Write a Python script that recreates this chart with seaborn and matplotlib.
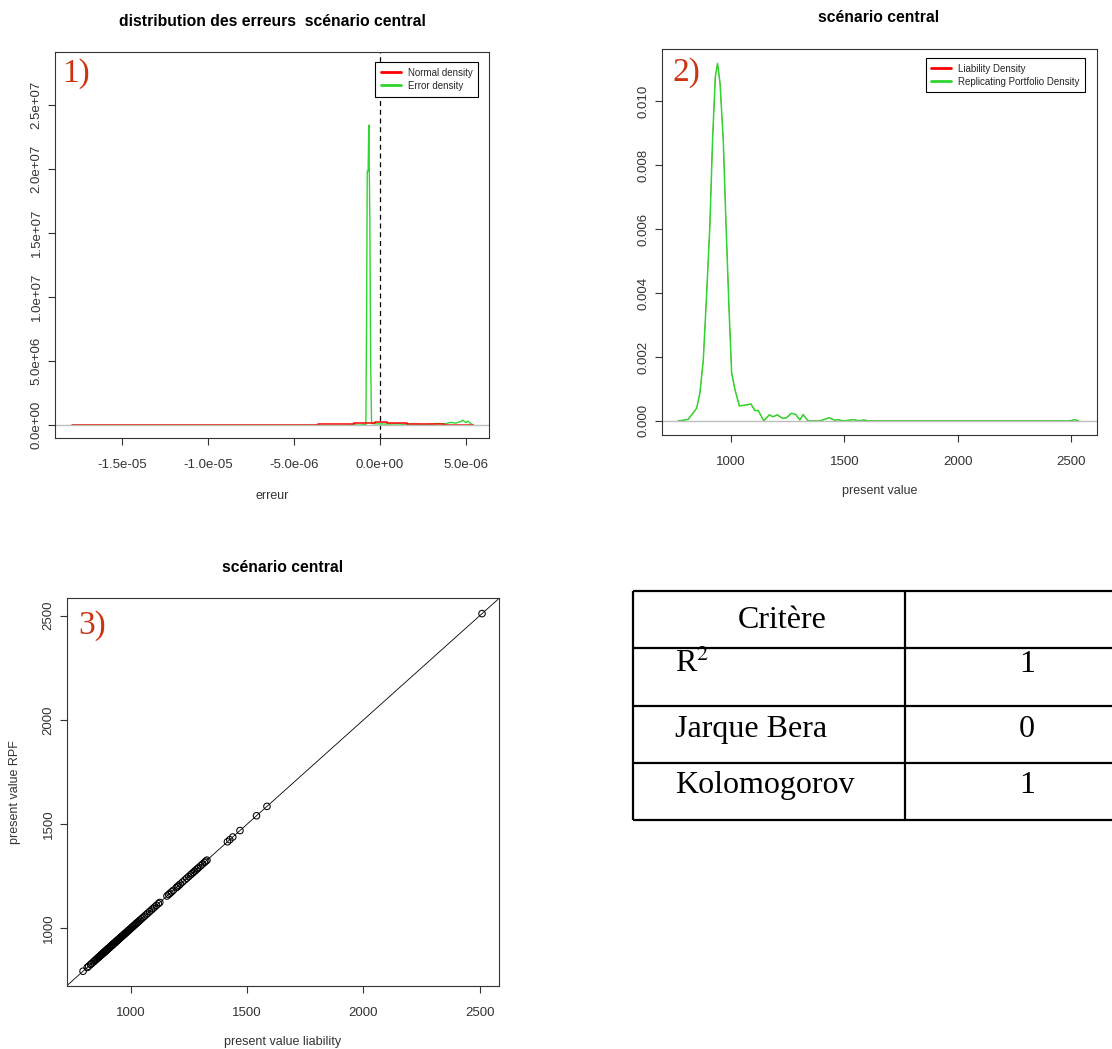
import matplotlib
matplotlib.use("Agg")
import matplotlib.pyplot as plt
import seaborn as sns

# ---------------- panel 1: error density vs fitted normal density ----------------
err_x = [-1.79e-5, -4.5e-6, -2.0e-6, -1.6e-6, -1.2e-6, -9.0e-7, -8.2e-7, -7.8e-7,
         -7.4e-7, -6.9e-7, -6.5e-7, -5.9e-7, -5.4e-7, -4.9e-7, -4.5e-7, -3.0e-7,
         0.0, 5.0e-7, 1.0e-6, 1.5e-6, 2.0e-6, 2.5e-6, 3.0e-6, 3.4e-6, 3.8e-6,
         4.1e-6, 4.4e-6, 4.7e-6, 4.8e-6, 5.0e-6, 5.1e-6, 5.3e-6, 5.45e-6]
err_y = [0.0, 0.0, 0.0, 4e4, 0.0, 5e4, 0.0, 8.4e6,
         1.98e7, 1.98e7, 2.34e7, 1.60e7, 4.7e6, 2e5, 1.2e5, 1e5,
         1e5, 8e4, 1e5, 6e4, 9e4, 3e4, 8e4, 1.3e5, 1.0e5,
         2.2e5, 1.6e5, 2.8e5, 3.9e5, 2.0e5, 3.2e5, 1.0e5, 0.0]
norm_x = [-1.79e-5, -3.6e-6, -2.4e-6, -1.5e-6, -3.0e-7, 4.0e-7, 1.6e-6, 2.5e-6, 3.7e-6, 5.4e-6]
norm_y = [0.0, 5.5e4, 1.2e5, 2.0e5, 2.7e5, 2.0e5, 1.2e5, 5.5e4, 2e4, 2e4]
err_xticks = [-1.5e-5, -1.0e-5, -5.0e-6, 0.0, 5.0e-6]
err_xticklabels = ["-1.5e-05", "-1.0e-05", "-5.0e-06", "0.0e+00", "5.0e-06"]
err_yticks = [0, 5e6, 1e7, 1.5e7, 2e7, 2.5e7]
err_yticklabels = ["0.0e+00", "5.0e+06", "1.0e+07", "1.5e+07", "2.0e+07", "2.5e+07"]

# ---------------- panel 2: density of present values ----------------
pv_grid = [768, 812, 849, 863, 878, 893, 907, 919, 931, 941, 952, 966, 978, 991,
           1003, 1018, 1037, 1069, 1088, 1106, 1120, 1145, 1169, 1186, 1204, 1228,
           1245, 1267, 1286, 1304, 1318, 1340, 1392, 1433, 1458, 1473, 1495, 1542,
           1565, 1586, 1605, 2000, 2490, 2505, 2515, 2525, 2533]
rpf_density = [0.0, 0.00005, 0.0004, 0.00087, 0.0019, 0.0040, 0.0061, 0.0088,
               0.01076, 0.01118, 0.01055, 0.0088, 0.0062, 0.0036, 0.0015, 0.00097,
               0.00047, 0.0005, 0.00053, 0.00032, 0.00033, 0.0, 0.00019, 0.00013,
               0.00019, 0.00008, 0.0001, 0.00024, 0.0002, 0.00003, 0.0002, 0.0,
               0.0, 0.0001, 0.00002, 0.00004, 0.0, 0.00004, 0.0, 0.00003, 0.0,
               0.0, 0.0, 0.00002, 0.00004, 0.00002, 0.0]
liability_density = list(rpf_density)
pv_xticks = [1000, 1500, 2000, 2500]
dens_yticks = [0.000, 0.002, 0.004, 0.006, 0.008, 0.010]
dens_yticklabels = ["0.000", "0.002", "0.004", "0.006", "0.008", "0.010"]

# ---------------- panel 3: RPF vs liability ----------------
pv_liability = [794, 812, 818, 826, 831, 838, 842, 847, 851, 855, 858, 861, 864, 867,
                870, 872, 875, 877, 880, 882, 884, 886, 888, 890, 892, 894, 896, 898,
                900, 902, 904, 906, 908, 910, 912, 914, 916, 918, 920, 922, 924, 926,
                928, 930, 932, 934, 936, 938, 940, 942, 944, 946, 948, 950, 953, 956,
                959, 962, 965, 968, 971, 974, 977, 980, 983, 986, 989, 992, 995, 998,
                1002, 1006, 1010, 1014, 1018, 1022, 1026, 1030, 1035, 1040, 1046, 1052,
                1058, 1065, 1072, 1080, 1088, 1095, 1102, 1110, 1118, 1124,
                1155, 1162, 1168, 1175, 1182, 1195, 1200, 1206, 1212, 1222, 1232, 1240,
                1248, 1256, 1262, 1268, 1274, 1280, 1286, 1292, 1300, 1308, 1316, 1322,
                1327, 1415, 1425, 1438, 1469, 1540, 1585, 2510]
pv_rpf = list(pv_liability)
pv_yticks = [1000, 1500, 2000, 2500]

# ---------------- summary table ----------------
criteria_header = "Critère"
criteria = ["R$^2$", "Jarque Bera", "Kolomogorov"]
criteria_values = ["1", "0", "1"]

# ---------------- styling ----------------
sns.set_theme(style="white")
plt.rcParams["font.family"] = ["Liberation Sans", "DejaVu Sans"]
plt.rcParams["mathtext.fontset"] = "stix"

W, H = 1112, 1049
fig = plt.figure(figsize=(W / 100, H / 100), dpi=100)
fig.patch.set_facecolor("white")

RED = "#ff0000"
GREEN = "#2fd62f"
ZERO = "#bebebe"
INK = "#333333"
TAG = "#cc3311"


def px_axes(x0, y0, x1, y1):
    return fig.add_axes([x0 / W, 1 - y1 / H, (x1 - x0) / W, (y1 - y0) / H])


def r_frame(ax):
    for s in ax.spines.values():
        s.set_visible(True)
        s.set_color(INK)
        s.set_linewidth(0.8)
    ax.tick_params(direction="out", length=5, width=0.8, color=INK,
                   labelsize=9.5, labelcolor=INK, left=True, bottom=True)
    ax.tick_params(axis="x", pad=10)
    ax.tick_params(axis="y", pad=4)
    ax.grid(False)
    ax.set_facecolor("white")


def tag(ax, txt, dx, dy, bbox_w, bbox_h):
    ax.text(dx / bbox_w, 1 - dy / bbox_h, txt, transform=ax.transAxes,
            ha="left", va="top", fontsize=24, color=TAG, family="Liberation Serif")


def axis_labels(ax, xlabel, xoff, ylabel=None, yoff=None, w=1, h=1):
    ax.set_xlabel(xlabel, fontsize=9, color=INK)
    ax.xaxis.label.set_verticalalignment("center")
    ax.xaxis.set_label_coords(0.5, -xoff / h)
    if ylabel is not None:
        ax.set_ylabel(ylabel, fontsize=9, color=INK)
        ax.yaxis.label.set_verticalalignment("center")
        ax.yaxis.set_label_coords(-yoff / w, 0.5)
    else:
        ax.set_ylabel("")


def legend_box(ax, anchor, handles=None, labels=None):
    kw = dict(loc="upper right", bbox_to_anchor=anchor, fontsize=7,
              frameon=True, fancybox=False, edgecolor="black", framealpha=1,
              borderpad=0.6, handlelength=2.0, handletextpad=0.7,
              labelspacing=0.3, borderaxespad=0)
    leg = ax.legend(handles, labels, **kw) if handles else ax.legend(**kw)
    leg.get_frame().set_linewidth(0.8)
    for ln in leg.get_lines():
        ln.set_linewidth(2)
    return leg


# ---- panel 1 ----
ax1 = px_axes(55, 52, 489, 438)
sns.lineplot(x=err_x, y=err_y, ax=ax1, color=GREEN, lw=1, estimator=None,
             sort=False, label="Error density")
ax1.axhline(0, color=ZERO, lw=1, zorder=2.5)
sns.lineplot(x=norm_x, y=norm_y, ax=ax1, color=RED, lw=1.1, estimator=None,
             sort=False, drawstyle="steps-post", label="Normal density")
ax1.axvline(0, color="black", lw=0.9, ls=(0, (4, 3)))
ax1.set_xlim(-1.89e-5, 6.34e-6)
ax1.set_ylim(-1.0e6, 2.91e7)
r_frame(ax1)
ax1.set_xticks(err_xticks, err_xticklabels)
ax1.set_yticks(err_yticks, err_yticklabels, rotation=90, va="center")
axis_labels(ax1, "erreur", 58, h=386)
h1, l1 = ax1.get_legend_handles_labels()
order = [l1.index("Normal density"), l1.index("Error density")]
legend_box(ax1, (0.975, 0.974), [h1[i] for i in order], [l1[i] for i in order])
tag(ax1, "1)", 7, 6, 434, 386)
fig.text(272 / W, 1 - 22 / H, "distribution des erreurs  scénario central",
         ha="center", va="center", fontsize=11.3, fontweight="bold", color="black")

# ---- panel 2 ----
ax2 = px_axes(662, 49, 1097, 435)
sns.lineplot(x=pv_grid, y=liability_density, ax=ax2, color=RED, lw=0.4,
             estimator=None, sort=False, label="Liability Density")
ax2.axhline(0, color=ZERO, lw=1, zorder=2.5)
sns.lineplot(x=pv_grid, y=rpf_density, ax=ax2, color=GREEN, lw=1.1,
             estimator=None, sort=False, label="Replicating Portfolio Density")
ax2.set_xlim(696, 2614)
ax2.set_ylim(-0.00044, 0.01163)
r_frame(ax2)
ax2.set_xticks(pv_xticks, [str(v) for v in pv_xticks])
ax2.set_yticks(dens_yticks, dens_yticklabels, rotation=90, va="center")
axis_labels(ax2, "present value", 56, h=386)
legend_box(ax2, (0.972, 0.977))
tag(ax2, "2)", 11, 8, 435, 386)
fig.text(879 / W, 1 - 18 / H, "scénario central", ha="center", va="center",
         fontsize=11.3, fontweight="bold", color="black")

# ---- panel 3 ----
ax3 = px_axes(67, 598, 499, 986)
ax3.axline((1000, 1000), slope=1, color="black", lw=0.6, zorder=1)
sns.scatterplot(x=pv_liability, y=pv_rpf, ax=ax3, marker="o", s=22,
                facecolor="none", edgecolor="black", linewidth=0.75, zorder=2)
ax3.set_xlim(725, 2583)
ax3.set_ylim(723, 2585)
r_frame(ax3)
ax3.set_xticks(pv_xticks, [str(v) for v in pv_xticks])
ax3.set_yticks(pv_yticks, [str(v) for v in pv_yticks], rotation=90, va="center")
axis_labels(ax3, "present value liability", 56, "present value RPF", 52, w=432, h=388)
tag(ax3, "3)", 11, 12, 432, 388)
fig.text(283 / W, 1 - 567 / H, "scénario central", ha="center", va="center",
         fontsize=11.3, fontweight="bold", color="black")

# ---- summary table ----
tab = fig.add_axes([0, 0, 1, 1])
tab.set_xlim(0, W)
tab.set_ylim(H, 0)
tab.axis("off")
row_edges = [591, 648, 706, 763, 820]
tab.hlines(row_edges, 633, 1125, color="black", lw=1.6)
tab.vlines([633, 905], 591, 820, color="black", lw=1.6)
serif = dict(family="Liberation Serif", fontsize=23, color="black", va="baseline")
tab.text(782, 628, criteria_header, ha="center", **serif)
for base, name, val in zip([672, 737, 793], criteria, criteria_values):
    tab.text(675, base, name, ha="left", **serif)
    tab.text(1027, base, val, ha="center", **serif)

fig.savefig("out.png", dpi=100, facecolor="white")
